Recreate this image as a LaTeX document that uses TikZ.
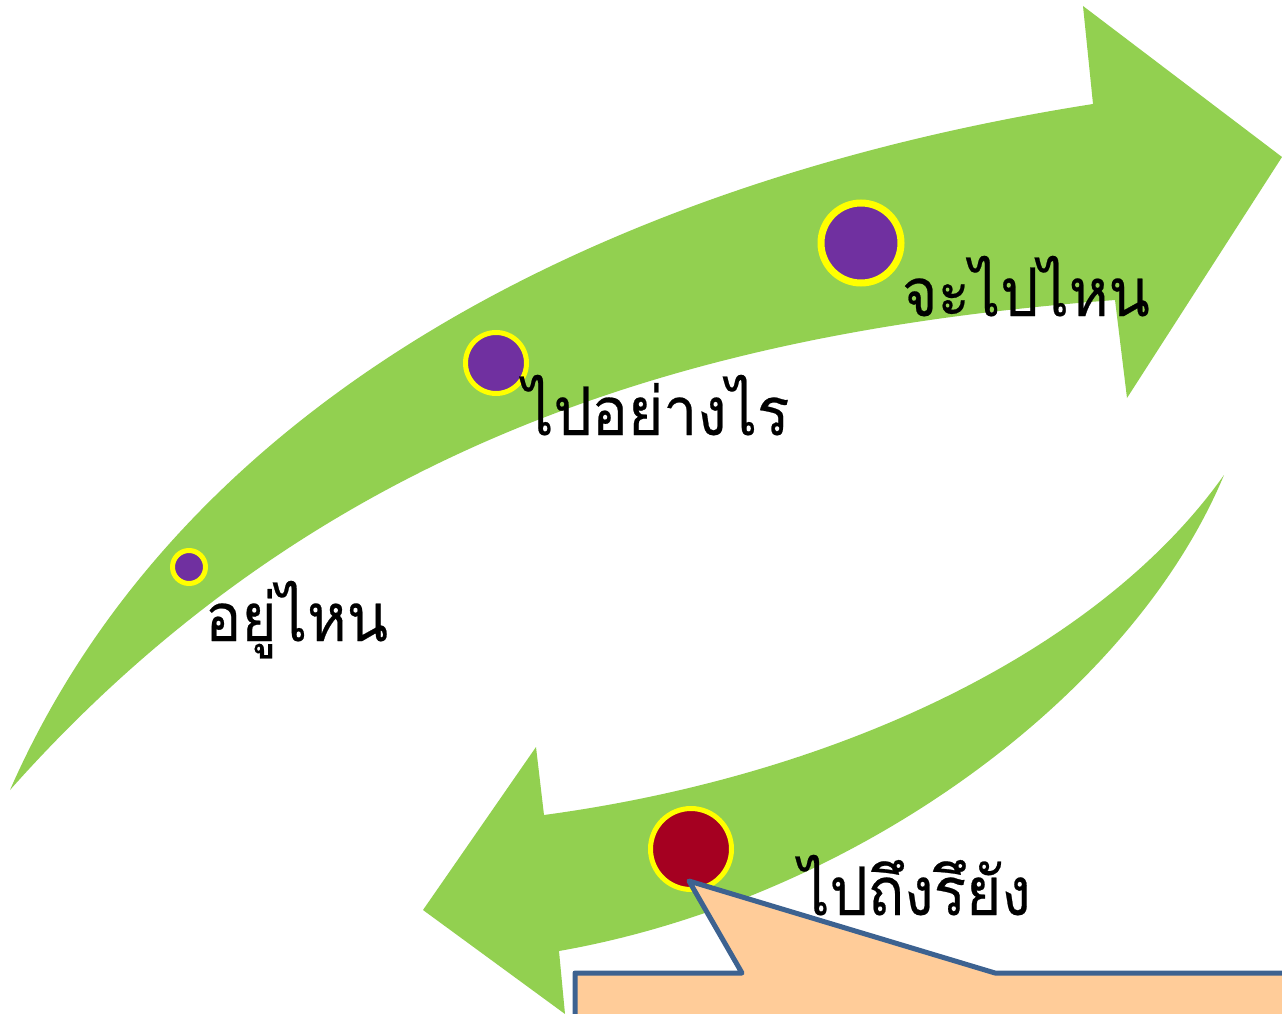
\documentclass[tikz,border=0pt]{standalone}
\usepackage{fontspec}
\newfontfamily\thaifont[Script=Thai, FakeStretch=0.9, FakeBold=0.35]{Loma}
\definecolor{agreen}{HTML}{92D050}
\definecolor{apurple}{HTML}{7030A0}
\definecolor{ared}{HTML}{A50021}
\definecolor{ayellow}{HTML}{FFFF00}
\definecolor{apeach}{HTML}{FFCC99}
\definecolor{ablue}{HTML}{3D6290}
\begin{document}
\begin{tikzpicture}[x=1pt,y=-1pt,
  dot/.style={circle, draw=ayellow, fill=apurple, line width=5pt, inner sep=0pt},
  lbl/.style={font=\thaifont\fontsize{67}{80}\selectfont, anchor=base west, inner sep=0pt, text=black}]
\useasboundingbox (0,0) rectangle (1282,1014);
\clip (0,0) rectangle (1282,1014);
% upper curved arrow
\fill[agreen] (10,790) .. controls (190,380) and (640,175) .. (1093,104)
  -- (1083,6) -- (1282,157) -- (1127,398) -- (1115,300)
  .. controls (720,330) and (330,430) .. (10,790) -- cycle;
% lower curved arrow
\fill[agreen] (1224,475) .. controls (1100,650) and (840,775) .. (544,815)
  -- (536,747) -- (423,910) -- (565,1014) -- (559,951)
  .. controls (850,900) and (1130,700) .. (1224,475) -- cycle;
% dots
\node[dot, minimum size=33pt] (d1) at (189,567) {};
\node[dot, minimum size=61pt] (d2) at (496,363) {};
\node[dot, minimum size=80pt, line width=7pt] (d3) at (861,243) {};
\node[dot, fill=ared, minimum size=81pt] (d4) at (691,849) {};
% callout
\coordinate (tip) at (689,881);
\filldraw[fill=apeach, draw=ablue, line width=5pt, line join=round]
  (575,1040) -- (575,973) -- (742,973) -- (tip) -- (995,973) -- (1300,973) -- (1300,1040) -- cycle;
% labels
\node[lbl] (t1) at (205,641) {อยู่ไหน};
\node[lbl] (t2) at (523,435) {ไปอย่างไร};
\node[lbl] (t3) at (902,316) {จะไปไหน};
\node[lbl] (t4) at (799,915) {ไปถึงรึยัง};
\end{tikzpicture}
\end{document}
